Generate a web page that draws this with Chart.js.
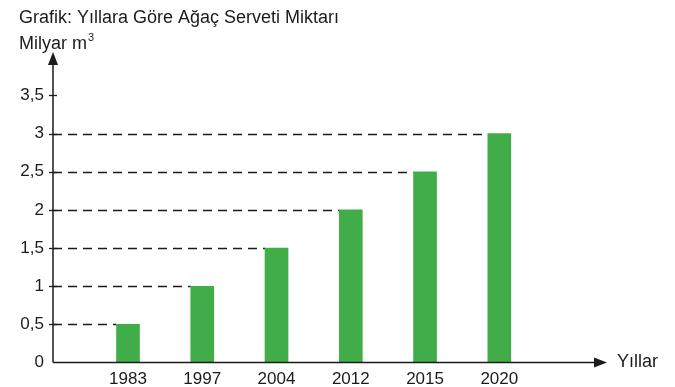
<!DOCTYPE html>
<html>
<head>
<meta charset="utf-8">
<script src="https://cdn.jsdelivr.net/npm/chart.js@4"></script>
<style>
  html, body { margin: 0; padding: 0; background: #fff; }
  #wrap { width: 675px; height: 387px; }
</style>
</head>
<body>
<div id="wrap"><canvas id="chart"></canvas></div>
<script>
// Chart data
const years = ['1983', '1997', '2004', '2012', '2015', '2020'];
const values = [0.5, 1, 1.5, 2, 2.5, 3];
const yTicks = [0, 0.5, 1, 1.5, 2, 2.5, 3, 3.5];

const titleText = 'Grafik: Yıllara Göre Ağaç Serveti Miktarı';
const unitText = 'Milyar m';
const xAxisText = 'Yıllar';

const ink = '#1c1a1b';
const barGreen = '#41ad49';
const fontFamily = '"Liberation Sans", Arial, sans-serif';

// Draws axes with arrows, tick marks, dashed guides and the texts
const decorPlugin = {
    id: 'decor',
    beforeDatasetsDraw(chart) {
        const ctx = chart.ctx;
        const x = chart.scales.x;
        const y = chart.scales.y;
        const meta = chart.getDatasetMeta(0);
        ctx.save();
        // dashed guides from the y axis to each bar
        ctx.strokeStyle = ink;
        ctx.lineWidth = 1.3;
        ctx.setLineDash([9, 6]);
        meta.data.forEach((bar, i) => {
            const py = Math.round(y.getPixelForValue(values[i])) + 0.5;
            ctx.beginPath();
            ctx.moveTo(x.left, py);
            ctx.lineTo(bar.x - bar.width / 2, py);
            ctx.stroke();
        });
        ctx.restore();
    },
    afterDatasetsDraw(chart) {
        const ctx = chart.ctx;
        const x = chart.scales.x;
        const y = chart.scales.y;
        const x0 = x.left;
        const y0 = y.getPixelForValue(0);
        ctx.save();
        ctx.strokeStyle = ink;
        ctx.fillStyle = ink;
        ctx.lineWidth = 1.5;
        ctx.setLineDash([]);

        // y axis
        ctx.beginPath();
        ctx.moveTo(x0, y0);
        ctx.lineTo(x0, y.top + 8);
        ctx.stroke();
        ctx.beginPath();
        ctx.moveTo(x0, y.top);
        ctx.lineTo(x0 - 5, y.top + 13);
        ctx.lineTo(x0 + 5, y.top + 13);
        ctx.closePath();
        ctx.fill();

        // x axis
        ctx.beginPath();
        ctx.moveTo(x0, y0);
        ctx.lineTo(x.right - 8, y0);
        ctx.stroke();
        ctx.beginPath();
        ctx.moveTo(x.right, y0);
        ctx.lineTo(x.right - 13, y0 - 5);
        ctx.lineTo(x.right - 13, y0 + 5);
        ctx.closePath();
        ctx.fill();

        // small tick marks across the y axis
        ctx.lineWidth = 1.3;
        yTicks.slice(1).forEach(v => {
            const py = Math.round(y.getPixelForValue(v)) + 0.5;
            ctx.beginPath();
            ctx.moveTo(x0 - 4, py);
            ctx.lineTo(x0 + 4, py);
            ctx.stroke();
        });

        // texts
        ctx.textBaseline = 'middle';
        ctx.textAlign = 'left';
        ctx.font = '18px ' + fontFamily;
        ctx.fillText(titleText, 19, 18);
        ctx.fillText(unitText, 19, 44);
        const w = ctx.measureText(unitText).width;
        ctx.font = '11px ' + fontFamily;
        ctx.fillText('3', 19 + w + 1, 38);
        ctx.font = '18px ' + fontFamily;
        ctx.fillText(xAxisText, x.right + 10, y0);
        ctx.restore();
    }
};

new Chart(document.getElementById('chart'), {
    type: 'bar',
    data: {
        datasets: [{
            data: values.map((v, i) => ({ x: i, y: v })),
            backgroundColor: barGreen,
            borderWidth: 0,
            barThickness: 23
        }]
    },
    options: {
        responsive: true,
        maintainAspectRatio: false,
        animation: false,
        layout: { padding: { top: 52, right: 68, left: 0, bottom: 0 } },
        plugins: {
            legend: { display: false },
            tooltip: { enabled: false }
        },
        scales: {
            x: {
                type: 'linear',
                offset: false,
                min: -1.01,
                max: 6.45,
                grid: { display: false, drawTicks: false },
                border: { display: false },
                afterFit: s => { s.height = 24.5; },
                afterBuildTicks: s => {
                    s.ticks = years.map((yr, i) => ({ value: i }));
                },
                ticks: {
                    autoSkip: false,
                    maxRotation: 0,
                    padding: 7,
                    color: ink,
                    font: { family: fontFamily, size: 17 },
                    callback: v => years[v]
                }
            },
            y: {
                min: 0,
                max: 4.07,
                grid: { display: false, drawTicks: false },
                border: { display: false },
                afterFit: s => { s.width = 53; },
                afterBuildTicks: s => {
                    s.ticks = yTicks.map(v => ({ value: v }));
                },
                ticks: {
                    padding: 9,
                    color: ink,
                    font: { family: fontFamily, size: 17 },
                    callback: v => String(v).replace('.', ',')
                }
            }
        }
    },
    plugins: [decorPlugin]
});
</script>
</body>
</html>
